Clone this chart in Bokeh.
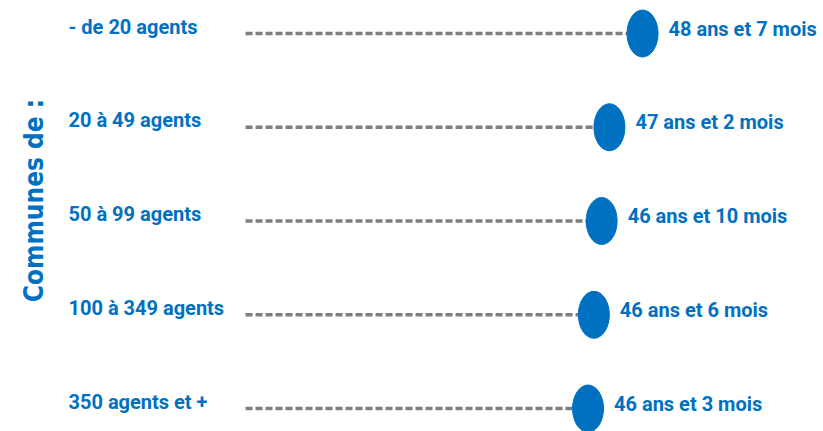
import math
from bokeh.plotting import figure
from bokeh.models import ColumnDataSource, Range1d, Label
from bokeh.core.properties import value
from bokeh.embed import file_html
from bokeh.resources import INLINE

categories = ["- de 20 agents", "20 à 49 agents", "50 à 99 agents", "100 à 349 agents", "350 agents et +"]
age_years = [48, 47, 46, 46, 46]
age_months = [7, 2, 10, 6, 3]
value_labels = ["48 ans et 7 mois", "47 ans et 2 mois", "46 ans et 10 mois", "46 ans et 6 mois", "46 ans et  3 mois"]
axis_title = "Communes de :"

BLUE = "#0070C0"
GREY = "#7F7F7F"
FONT = "Roboto"
BASE = 31.59
X0, X1 = 21.10, 56.33

ages = [y + m / 12 for y, m in zip(age_years, age_months)]
rows = list(range(len(categories)))

src = ColumnDataSource(dict(
    cat=categories, age=ages, row=rows, lab=value_labels,
    base=[BASE] * len(ages), lx=[X0 + 68 / 23.36] * len(ages),
))

p = figure(width=823, height=431, output_backend="svg", toolbar_location=None,
           x_range=Range1d(X0, X1), y_range=Range1d(4.245, -0.352),
           min_border=0, outline_line_color=None)
p.axis.visible = False
p.grid.visible = False
p.background_fill_color = "white"

p.segment(x0="base", y0="row", x1="age", y1="row", source=src,
          line_color=GREY, line_width=3.5, line_dash="7 3")
p.ellipse(x="age", y="row", width=31, height=47, width_units="screen", height_units="screen",
          source=src, fill_color=BLUE, line_color=BLUE)

p.text(x="lx", y="row", text="cat", source=src, y_offset=-7,
       text_font=value(FONT), text_font_style="bold", text_font_size="20px",
       text_color=BLUE, text_align="left", text_baseline="middle")
p.text(x="age", y="row", text="lab", source=src, x_offset=26, y_offset=-5,
       text_font=value(FONT), text_font_style="bold", text_font_size="20px",
       text_color=BLUE, text_align="left", text_baseline="middle")

p.add_layout(Label(x=33, y=231, x_units="screen", y_units="screen", text=axis_title,
                   angle=math.pi / 2, text_align="center", text_baseline="middle",
                   text_font="DejaVu Sans Condensed", text_font_style="bold", text_font_size="26px",
                   text_color=BLUE))

open("out.html", "w").write(file_html(p, INLINE))
